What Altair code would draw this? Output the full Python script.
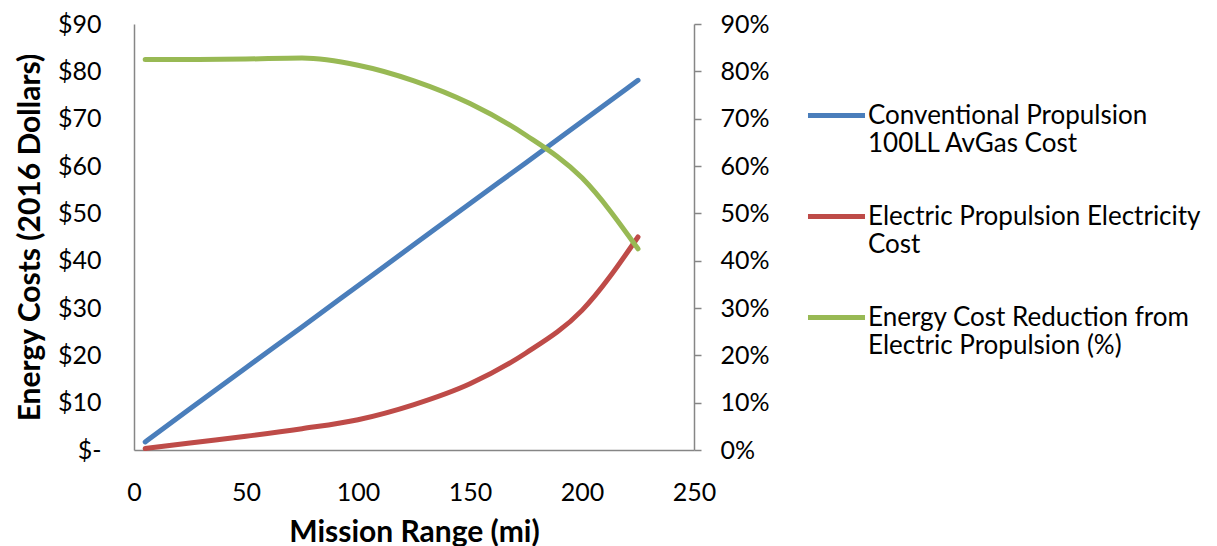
import altair as alt
import pandas as pd

# ---- data ----
range_mi = [5, 25, 50, 75, 100, 125, 150, 175, 200, 225]
avgas_cost = [1.7, 8.7, 17.4, 26.0, 34.7, 43.4, 52.1, 60.7, 69.4, 78.1]
electric_cost = [0.3, 1.5, 2.9, 4.5, 6.4, 9.6, 14.0, 20.5, 29.5, 45.0]
reduction_pct = [82.5, 82.5, 82.6, 82.8, 81.3, 78.0, 73.2, 66.5, 57.5, 42.5]

series_names = [
    "Conventional Propulsion|100LL AvGas Cost",
    "Electric Propulsion Electricity|Cost",
    "Energy Cost Reduction from|Electric Propulsion (%)",
]
series_colors = ["#4A7EBB", "#BE4B48", "#98B954"]

x_ticks = [0, 50, 100, 150, 200, 250]
y_ticks = [0, 10, 20, 30, 40, 50, 60, 70, 80, 90]

FONT = "Lato"
AXIS_GRAY = "#868686"

cost_df = pd.concat([
    pd.DataFrame({"range": range_mi, "value": avgas_cost, "series": series_names[0]}),
    pd.DataFrame({"range": range_mi, "value": electric_cost, "series": series_names[1]}),
])
pct_df = pd.DataFrame({"range": range_mi, "value": reduction_pct, "series": series_names[2]})

color = alt.Color(
    "series:N",
    scale=alt.Scale(domain=series_names, range=series_colors),
    legend=alt.Legend(
        title=None,
        orient="none",
        legendX=671,
        legendY=60,
        padding=0,
        symbolType="stroke",
        symbolSize=3250,
        symbolStrokeWidth=5,
        labelFont=FONT,
        labelFontSize=26,
        labelColor="#000000",
        labelOffset=0,
        labelLimit=500,
        rowPadding=28,
        labelExpr="split(datum.label, '|')",
    ),
)

x_enc = alt.X(
    "range:Q",
    scale=alt.Scale(domain=[0, 250], nice=False),
    axis=alt.Axis(
        values=x_ticks, title="Mission Range (mi)", ticks=False, grid=False,
        labelPadding=30, titlePadding=12, labelFlush=False,
    ),
)

cost_layer = alt.Chart(cost_df).mark_line(
    strokeWidth=5, strokeCap="round", interpolate="monotone"
).encode(
    x=x_enc,
    y=alt.Y(
        "value:Q",
        scale=alt.Scale(domain=[0, 90], nice=False),
        axis=alt.Axis(
            values=y_ticks, title="Energy Costs (2016 Dollars)", ticks=False, grid=False,
            labelPadding=33, titlePadding=12,
            labelExpr="datum.value == 0 ? '$-' : '$' + datum.value",
        ),
    ),
    color=color,
    order=alt.Order("range:Q"),
)

pct_layer = alt.Chart(pct_df).mark_line(
    strokeWidth=5, strokeCap="round", interpolate="monotone"
).encode(
    x=x_enc,
    y=alt.Y(
        "value:Q",
        scale=alt.Scale(domain=[0, 90], nice=False),
        axis=alt.Axis(
            orient="right", values=y_ticks, title=None, ticks=True, tickSize=7,
            grid=False, labelPadding=19,
            labelExpr="datum.value + '%'",
        ),
    ),
    color=color,
    order=alt.Order("range:Q"),
)

chart = alt.layer(cost_layer, pct_layer).resolve_scale(
    y="independent"
).properties(
    width=560, height=426,
    padding={"left": 7, "top": 4, "right": 0, "bottom": 0},
    background="white",
).configure_view(
    stroke=None
).configure_axis(
    labelFont=FONT, labelFontSize=25, labelColor="#000000",
    titleFont=FONT, titleFontSize=30, titleFontWeight="bold", titleColor="#000000",
    domainColor=AXIS_GRAY, domainWidth=1.5, tickColor=AXIS_GRAY, tickWidth=1.5,
)

chart.save("out.html", embed_options={"renderer": "svg", "actions": False})
